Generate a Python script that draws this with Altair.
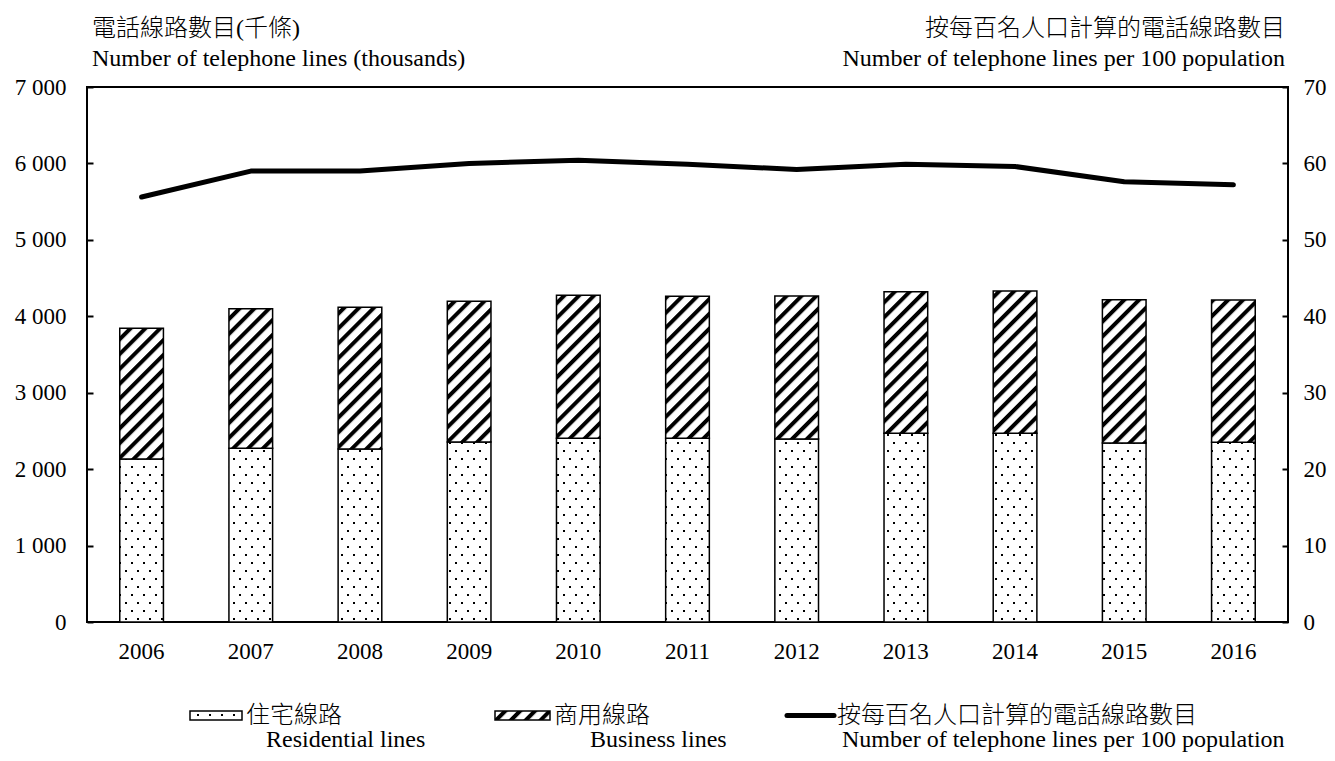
import altair as alt
import pandas as pd

# ---------------- data ----------------
YEARS = ["2006", "2007", "2008", "2009", "2010", "2011", "2012", "2013", "2014", "2015", "2016"]
RESIDENTIAL = [2133, 2273, 2263, 2355, 2405, 2403, 2394, 2468, 2468, 2342, 2351]
BUSINESS = [1710, 1826, 1855, 1841, 1869, 1858, 1871, 1854, 1863, 1875, 1862]
LINES_PER_100 = [55.6, 59.0, 59.0, 60.0, 60.4, 59.9, 59.2, 59.9, 59.6, 57.6, 57.2]

SERIES_ZH = ["住宅線路", "商用線路", "按每百名人口計算的電話線路數目"]
SERIES_EN = ["Residential lines", "Business lines", "Number of telephone lines per 100 population"]
LEFT_TITLE = ["電話線路數目(千條)", "Number of telephone lines (thousands)"]
RIGHT_TITLE = ["按每百名人口計算的電話線路數目", "Number of telephone lines per 100 population"]
LEFT_TICKS = [0, 1000, 2000, 3000, 4000, 5000, 6000, 7000]
RIGHT_TICKS = [0, 10, 20, 30, 40, 50, 60, 70]

# ---------------- layout / style ----------------
W, H = 1201, 535
FONT = "Liberation Serif, 'Noto Sans CJK TC', serif"
TICK_FS = 23
TEXT_FS = 24

bars_df = pd.DataFrame({
    "year": YEARS * 2,
    "series": [SERIES_ZH[0]] * len(YEARS) + [SERIES_ZH[1]] * len(YEARS),
    "value": RESIDENTIAL + BUSINESS,
    "stackorder": [0] * len(YEARS) + [1] * len(YEARS),
})
line_df = pd.DataFrame({"year": YEARS, "per100": LINES_PER_100})

x_scale = alt.Scale(domain=YEARS, paddingInner=0.6, paddingOuter=0.3)
x_axis = alt.Axis(title=None, domain=False, ticks=False, tickSize=0, labelPadding=18,
                  labelAngle=0, labelFont=FONT, labelFontSize=TICK_FS, labelColor="black",
                  grid=False)

left_axis = alt.Axis(title=None, orient="left", values=LEFT_TICKS, offset=-6, tickSize=6,
                     tickWidth=2, tickColor="black", domain=False, grid=False,
                     labelPadding=21, labelFont=FONT, labelFontSize=TICK_FS, labelColor="black",
                     labelExpr="replace(format(datum.value, ','), ',', ' ')")
right_axis = alt.Axis(title=None, orient="right", values=RIGHT_TICKS, offset=-6, tickSize=6,
                      tickWidth=2, tickColor="black", domain=False, grid=False,
                      labelPadding=15, labelFont=FONT, labelFontSize=TICK_FS, labelColor="black")

bars = alt.Chart(bars_df).mark_bar(stroke="black", strokeWidth=1.5).encode(
    x=alt.X("year:O", scale=x_scale, axis=x_axis),
    y=alt.Y("value:Q", stack="zero", scale=alt.Scale(domain=[0, 7000], nice=False), axis=left_axis),
    fill=alt.Fill("series:N", scale=alt.Scale(domain=SERIES_ZH[:2], range=["url(#dots)", "url(#hatch)"]),
                  legend=None),
    order=alt.Order("stackorder:Q"),
)

line = alt.Chart(line_df).mark_line(color="black", strokeWidth=5, strokeCap="round",
                                    strokeJoin="round").encode(
    x=alt.X("year:O", scale=x_scale, axis=x_axis),
    y=alt.Y("per100:Q", scale=alt.Scale(domain=[0, 70], nice=False), axis=right_axis),
)

one = alt.Data(values=[{}])


def label(txt, x, y, align="left", cjk=False):
    return alt.Chart(one).mark_text(
        text=txt, align=align, baseline="alphabetic", font=FONT, fontSize=TEXT_FS,
        color="black", fontWeight=300 if cjk else "normal",
    ).encode(x=alt.value(x), y=alt.value(y))


decor = [
    # axis titles
    label(LEFT_TITLE[0], 5, -51, cjk=True),
    label(LEFT_TITLE[1], 5, -21),
    label(RIGHT_TITLE[0], W - 3, -51, align="right", cjk=True),
    label(RIGHT_TITLE[1], W - 3, -21, align="right"),
    # legend symbols
    alt.Chart(one).mark_rect(fill="url(#dots)", stroke="black", strokeWidth=1.5).encode(
        x=alt.value(103), x2=alt.value(155), y=alt.value(624), y2=alt.value(633)),
    alt.Chart(one).mark_rect(fill="url(#hatch)", stroke="black", strokeWidth=1.5).encode(
        x=alt.value(408), x2=alt.value(463), y=alt.value(624), y2=alt.value(633)),
    alt.Chart(one).mark_rule(color="black", strokeWidth=5, strokeCap="round").encode(
        x=alt.value(700), x2=alt.value(747), y=alt.value(628.5)),
    # legend labels
    label(SERIES_ZH[0], 159, 636, cjk=True),
    label(SERIES_EN[0], 179, 660),
    label(SERIES_ZH[1], 467, 636, cjk=True),
    label(SERIES_EN[1], 503, 660),
    label(SERIES_ZH[2], 750, 636, cjk=True),
    label(SERIES_EN[2], 755, 660),
]

chart = alt.layer(bars, line, *decor).resolve_scale(y="independent").properties(
    width=W, height=H,
    autosize=alt.AutoSizeParams(type="none"),
    padding={"left": 79, "top": 79, "right": 39, "bottom": 130},
    background="white",
).configure_view(stroke="black", strokeWidth=2)

# ---------------- fill patterns (SVG defs referenced by url(#...)) ----------------
PATTERN_SVG = (
    '<svg width="0" height="0" style="position:absolute;left:0;top:0" aria-hidden="true">'
    '<defs>'
    '<pattern id="dots" patternUnits="userSpaceOnUse" x="0" y="0" width="12" height="16">'
    '<rect x="0" y="0" width="12" height="16" fill="#ffffff"/>'
    '<rect x="2" y="3" width="2" height="2" fill="#000000"/>'
    '<rect x="8" y="11" width="2" height="2" fill="#000000"/>'
    '</pattern>'
    '<pattern id="hatch" patternUnits="userSpaceOnUse" x="0" y="0" width="10.5" height="10.5" '
    'patternTransform="rotate(45)">'
    '<rect x="0" y="0" width="10.5" height="10.5" fill="#ffffff"/>'
    '<rect x="0" y="0" width="4" height="10.5" fill="#000000"/>'
    '</pattern>'
    '</defs></svg>'
)

save_kwargs = {}
try:
    from altair.utils.html import TEMPLATES as _TEMPLATES
    _BASE = _TEMPLATES["standard"]

    class PatternPage:
        def render(self, **kw):
            html = _BASE.render(**kw)
            i = html.find("<body>")
            if i >= 0:
                i += len("<body>")
                return html[:i] + PATTERN_SVG + html[i:]
            return PATTERN_SVG + html

    save_kwargs["template"] = PatternPage()
except Exception:
    pass

chart.save("out.html", embed_options={"renderer": "svg", "actions": False}, **save_kwargs)
